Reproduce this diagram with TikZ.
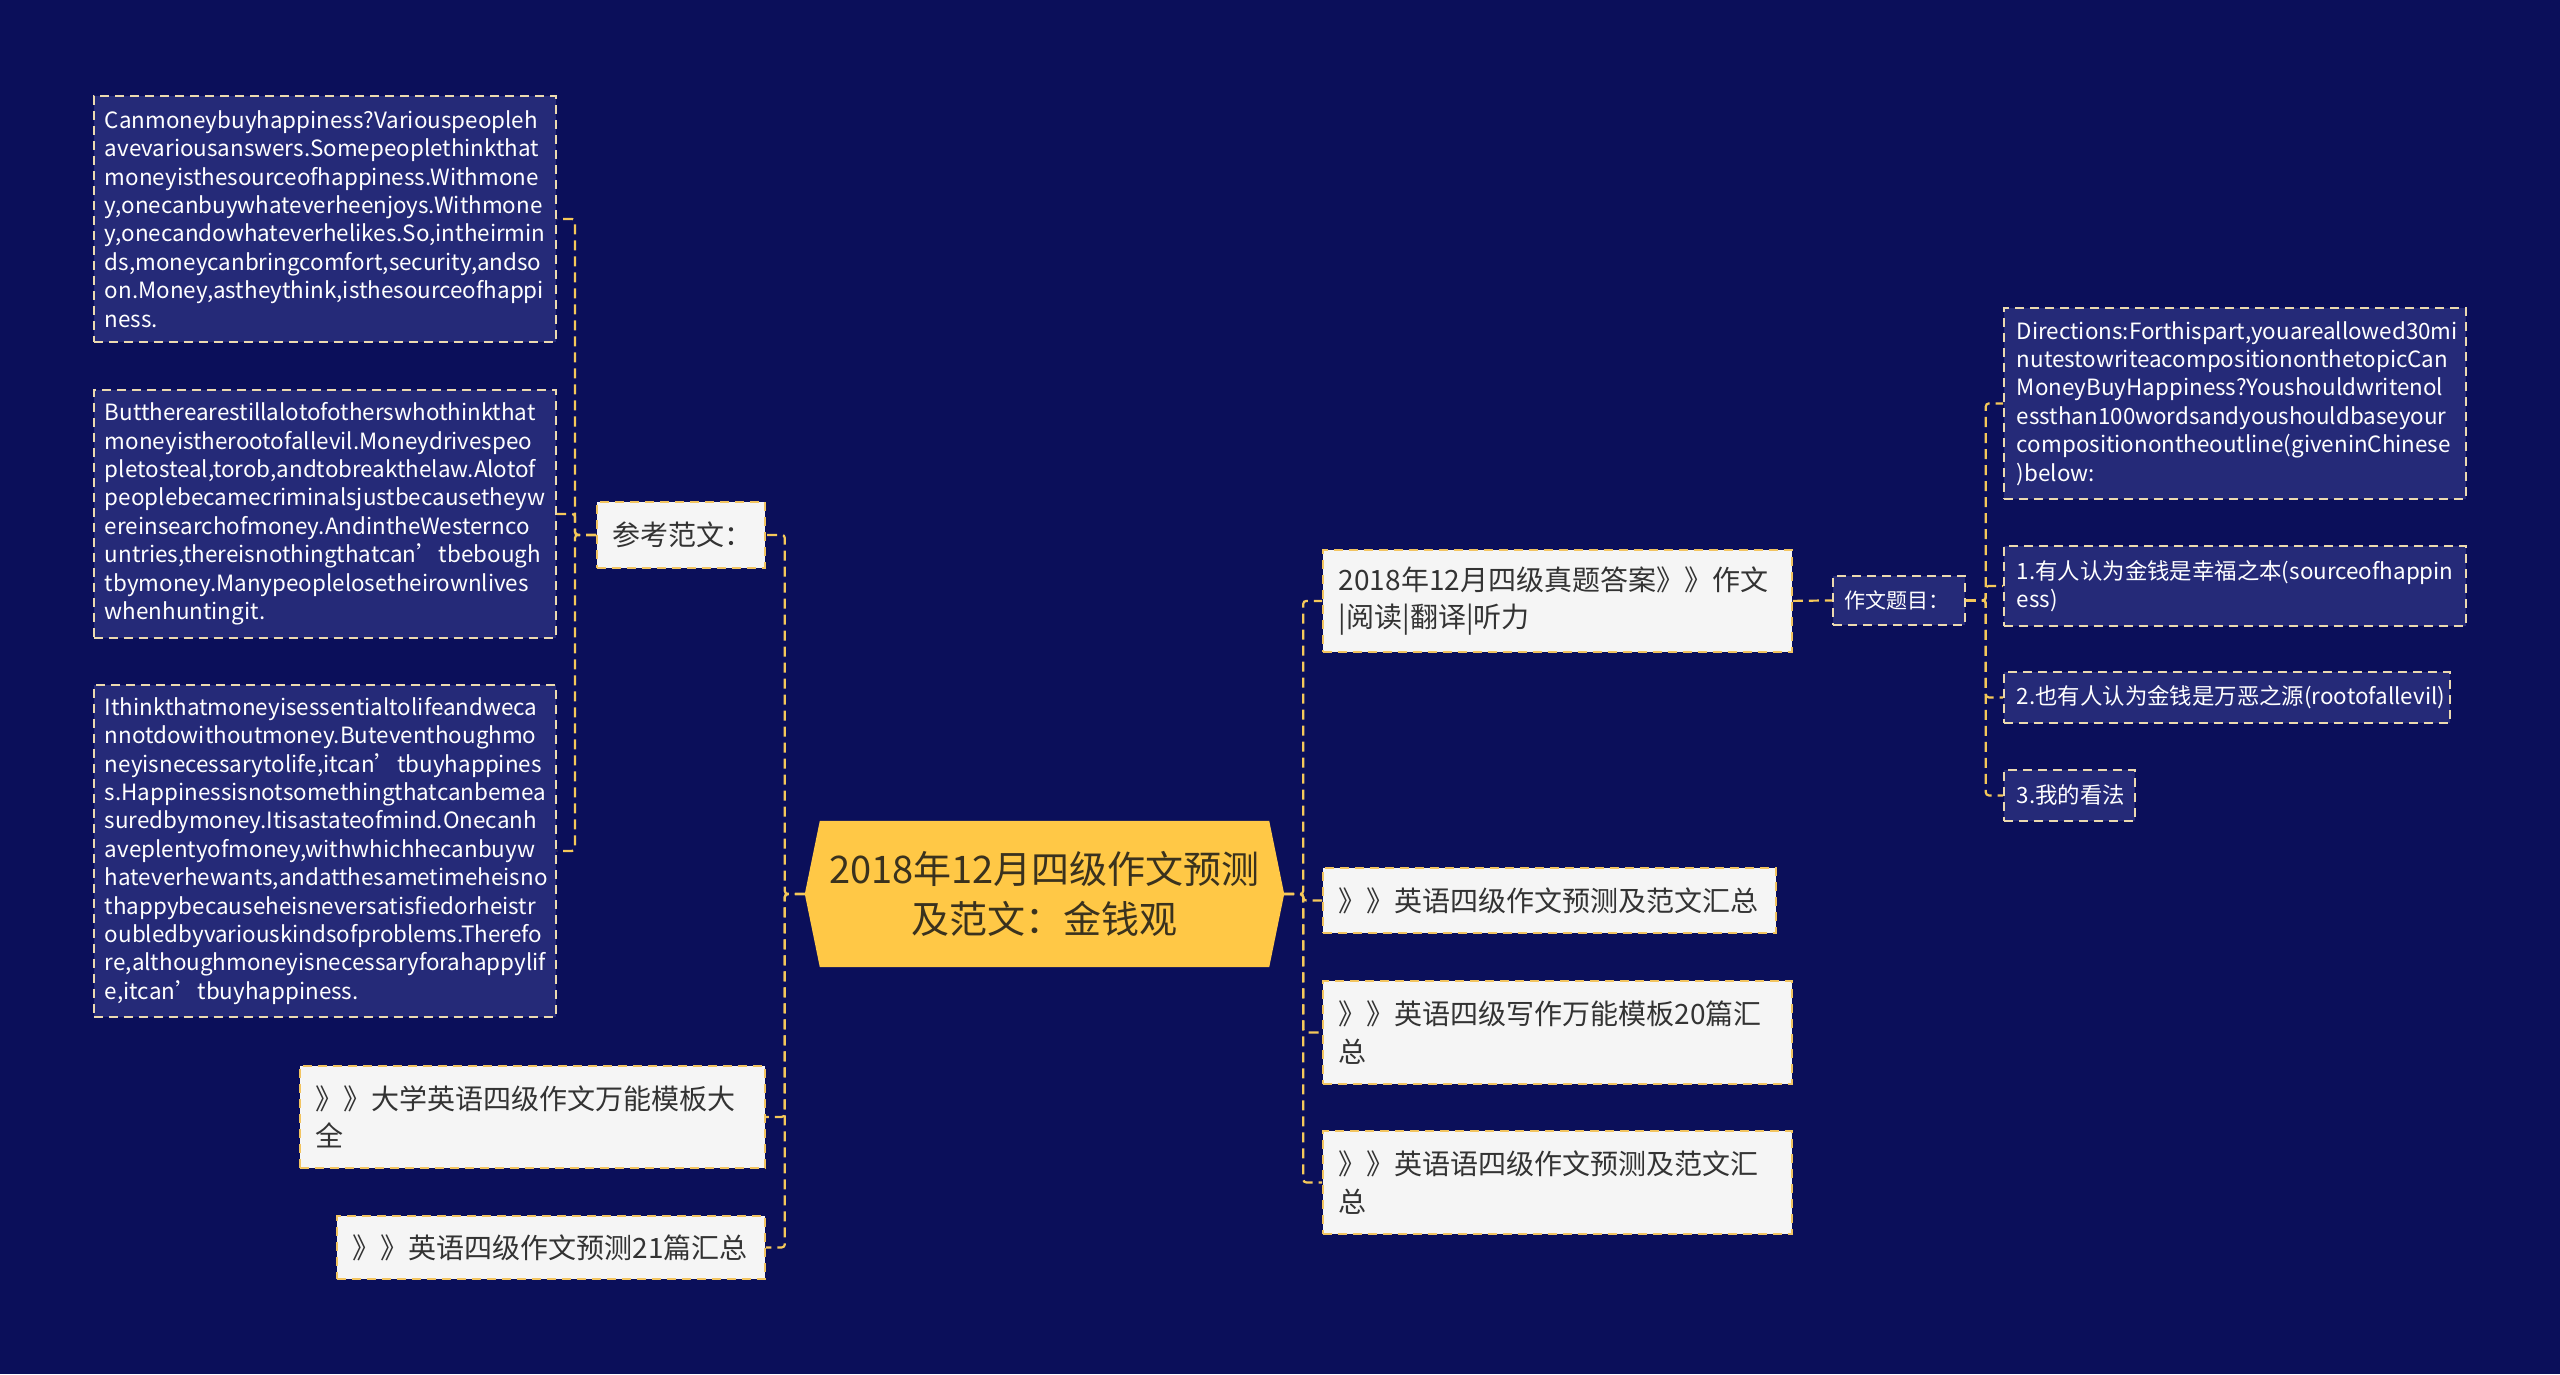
\documentclass[tikz,border=0pt]{standalone}
\usepackage{fontspec}
\setmainfont{Noto Sans CJK SC}
\usetikzlibrary{backgrounds}
\definecolor{bgnavy}{RGB}{11,15,90}
\definecolor{darkfill}{RGB}{37,42,120}
\definecolor{lightfill}{RGB}{245,245,245}
\definecolor{darktext}{RGB}{51,51,51}
\definecolor{boxgold}{RGB}{242,196,96}
\definecolor{beige}{RGB}{236,218,176}
\definecolor{linegold}{RGB}{245,200,90}
\definecolor{rootfill}{RGB}{255,200,70}
\definecolor{roottext}{RGB}{58,50,30}
\tikzset{
  basebox/.style={anchor=north west, line width=1.8pt, dash pattern=on 9pt off 6pt, align=left, inner ysep=0pt},
  lightbox/.style={basebox, draw=boxgold, fill=lightfill, text=darktext, inner xsep=16pt, font=\fontsize{28}{37.5}\selectfont},
  darkbox/.style={basebox, draw=beige, fill=darkfill, text=white, inner xsep=12pt, font=\fontsize{22.4}{28.4}\selectfont},
  sz/.style n args={2}{text width=#1, minimum height=#2},
  conn/.style={draw=linegold, line width=2.2pt, dash pattern=on 10pt off 6pt, rounded corners=3pt}
}
\begin{document}
\begin{tikzpicture}[x=1pt,y=-1pt]
\begin{scope}[on background layer]
\fill[bgnavy] (0,0) rectangle (2560,1374);
\end{scope}
\useasboundingbox (0,0) rectangle (2560,1374);

% root
\node[minimum width=479pt, minimum height=146pt, align=center, text=roottext,
      font=\fontsize{38}{50}\selectfont] (root) at (1044.5,894)
      {2018年12月四级作文预测\\及范文：金钱观};
\begin{scope}[on background layer]
\fill[rootfill] ([xshift=15pt]root.north west) -- ([xshift=-15pt]root.north east) -- (root.east)
  -- ([xshift=-15pt]root.south east) -- ([xshift=15pt]root.south west) -- (root.west) -- cycle;
\end{scope}

% left side
\node[lightbox, sz={136pt}{66pt}] (ref) at (596,501) {参考范文：};
\node[darkbox, inner xsep=11pt, sz={440pt}{246pt}] (l1) at (93,95)
{Canmoneybuyhappiness?Variouspeopleh\\
avevariousanswers.Somepeoplethinkthat\\
moneyisthesourceofhappiness.Withmone\\
y,onecanbuywhateverheenjoys.Withmone\\
y,onecandowhateverhelikes.So,intheirmin\\
ds,moneycanbringcomfort,security,andso\\
on.Money,astheythink,isthesourceofhappi\\
ness.};
\node[darkbox, inner xsep=11pt, sz={440pt}{248pt}] (l2) at (93,389)
{Buttherearestillalotofotherswhothinkthat\\
moneyistherootofallevil.Moneydrivespeo\\
pletosteal,torob,andtobreakthelaw.Alotof\\
peoplebecamecriminalsjustbecausetheyw\\
ereinsearchofmoney.AndintheWesternco\\
untries,thereisnothingthatcan’tbebough\\
tbymoney.Manypeoplelosetheirownlives\\
whenhuntingit.};
\node[darkbox, inner xsep=11pt, sz={440pt}{332pt}] (l3) at (93,684)
{Ithinkthatmoneyisessentialtolifeandweca\\
nnotdowithoutmoney.Buteventhoughmo\\
neyisnecessarytolife,itcan’tbuyhappines\\
s.Happinessisnotsomethingthatcanbemea\\
suredbymoney.Itisastateofmind.Onecanh\\
aveplentyofmoney,withwhichhecanbuyw\\
hateverhewants,andatthesametimeheisno\\
thappybecauseheisneversatisfiedorheistr\\
oubledbyvariouskindsofproblems.Therefo\\
re,althoughmoneyisnecessaryforahappylif\\
e,itcan’tbuyhappiness.};
\node[lightbox, sz={433pt}{102pt}] (l4) at (299,1065) {》》大学英语四级作文万能模板大\\全};
\node[lightbox, sz={396pt}{63pt}] (l5) at (336,1215) {》》英语四级作文预测21篇汇总};

% right side
\node[lightbox, sz={437pt}{102pt}] (r1) at (1322,549) {2018年12月四级真题答案》》作文\\|阅读|翻译|听力};
\node[lightbox, sz={421pt}{65pt}] (r2) at (1322,867) {》》英语四级作文预测及范文汇总};
\node[lightbox, sz={437pt}{103pt}] (r3) at (1322,980) {》》英语四级写作万能模板20篇汇\\总};
\node[lightbox, sz={437pt}{103pt}] (r4) at (1322,1130) {》》英语语四级作文预测及范文汇\\总};

\node[darkbox, inner xsep=12pt, font=\fontsize{21}{27}\selectfont, sz={108pt}{49pt}] (topic) at (1832,575) {作文题目：};
\node[darkbox, inner xsep=13pt, sz={436pt}{191pt}] (d0) at (2003,307)
{Directions:Forthispart,youareallowed30mi\\
nutestowriteacompositiononthetopicCan\\
MoneyBuyHappiness?Youshouldwritenol\\
essthan100wordsandyoushouldbaseyour\\
compositionontheoutline(giveninChinese\\
)below:};
\node[darkbox, inner xsep=13pt, sz={436pt}{80pt}] (d1) at (2003,545) {1.有人认为金钱是幸福之本(sourceofhappin\\ess)};
\node[darkbox, inner xsep=13pt, sz={420pt}{51pt}] (d2) at (2003,671) {2.也有人认为金钱是万恶之源(rootofallevil)};
\node[darkbox, inner xsep=13pt, sz={105pt}{51pt}] (d3) at (2003,769) {3.我的看法};

% connectors
\foreach \t in {ref,l4,l5} \draw[conn] (root.west) -- ++(-20,0) |- (\t.east);
\foreach \t in {l1,l2,l3} \draw[conn] (ref.west) -- ++(-21,0) |- (\t.east);
\foreach \t in {r1,r2,r3,r4} \draw[conn] (root.east) -- ++(19,0) |- (\t.west);
\draw[conn] (r1.east) -- (topic.west);
\foreach \t in {d0,d1,d2,d3} \draw[conn] (topic.east) -- ++(20,0) |- (\t.west);
\end{tikzpicture}
\end{document}
